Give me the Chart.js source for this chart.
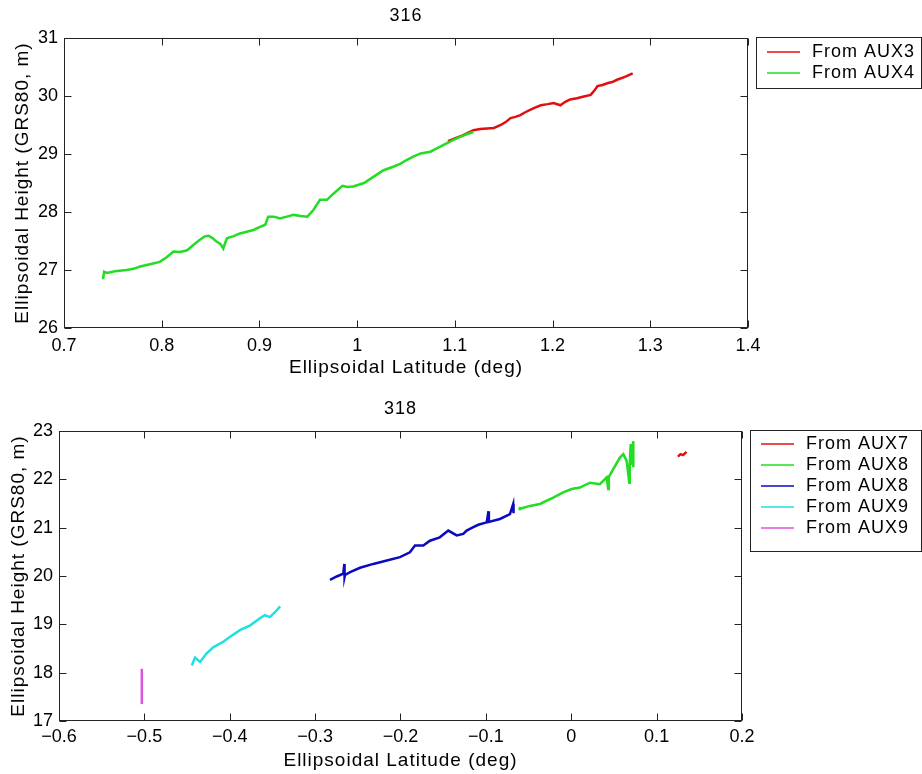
<!DOCTYPE html>
<html>
<head>
<meta charset="utf-8">
<script src="https://cdn.jsdelivr.net/npm/chart.js@4.4.1/dist/chart.umd.min.js"></script>
<style>
  html, body { margin: 0; padding: 0; background: #fff; }
  .wrap { position: absolute; left: 0; width: 922px; height: 387px; }
  canvas { display: block; }
</style>
</head>
<body>
<div class="wrap" style="top:0"><canvas id="chart316"></canvas></div>
<div class="wrap" style="top:387px"><canvas id="chart318"></canvas></div>
<script>
// ---- pass 316 ----
const lat316Aux3 = [1.093, 1.100, 1.108, 1.119, 1.126, 1.133, 1.140, 1.147, 1.152, 1.157, 1.162, 1.167, 1.172, 1.177, 1.182, 1.188, 1.195, 1.201, 1.208, 1.213, 1.218, 1.225, 1.232, 1.239, 1.243, 1.246, 1.251, 1.256, 1.261, 1.266, 1.274, 1.282];
const h316Aux3 = [29.22, 29.27, 29.32, 29.41, 29.43, 29.44, 29.45, 29.50, 29.55, 29.62, 29.64, 29.67, 29.72, 29.76, 29.80, 29.84, 29.86, 29.88, 29.84, 29.90, 29.94, 29.96, 29.99, 30.02, 30.10, 30.17, 30.19, 30.22, 30.24, 30.28, 30.33, 30.39];

const lat316Aux4 = [0.740, 0.741, 0.744, 0.752, 0.764, 0.771, 0.778, 0.788, 0.798, 0.805, 0.812, 0.819, 0.826, 0.833, 0.839, 0.844, 0.848, 0.852, 0.856, 0.860, 0.863, 0.865, 0.867, 0.873, 0.880, 0.887, 0.894, 0.900, 0.906, 0.909, 0.915, 0.921, 0.928, 0.935, 0.942, 0.949, 0.955, 0.962, 0.969, 0.976, 0.985, 0.990, 0.996, 1.007, 1.017, 1.027, 1.037, 1.044, 1.051, 1.058, 1.065, 1.075, 1.082, 1.089, 1.098, 1.106, 1.112, 1.119];
const h316Aux4 = [26.84, 26.97, 26.95, 26.98, 27.00, 27.02, 27.06, 27.10, 27.14, 27.22, 27.32, 27.31, 27.34, 27.44, 27.52, 27.58, 27.59, 27.55, 27.49, 27.45, 27.37, 27.47, 27.55, 27.58, 27.63, 27.66, 27.69, 27.74, 27.78, 27.92, 27.92, 27.89, 27.92, 27.95, 27.93, 27.92, 28.03, 28.21, 28.21, 28.32, 28.45, 28.43, 28.44, 28.50, 28.61, 28.72, 28.78, 28.83, 28.90, 28.96, 29.01, 29.04, 29.10, 29.16, 29.24, 29.30, 29.34, 29.38];

const xTicks316 = [0.7, 0.8, 0.9, 1.0, 1.1, 1.2, 1.3, 1.4];
const xLabels316 = ['0.7', '0.8', '0.9', '1', '1.1', '1.2', '1.3', '1.4'];
const yTicks316 = [26, 27, 28, 29, 30, 31];

// ---- pass 318 ----
const lat318Aux7 = [0.125, 0.128, 0.131, 0.135];
const h318Aux7 = [22.47, 22.52, 22.50, 22.57];

const lat318Aux8a = [-0.0605, -0.0600, -0.0600, -0.0484, -0.0367, -0.0211, -0.0094, 0.0005, 0.0101, 0.0219, 0.0336, 0.0414, 0.0433, 0.0440, 0.0492, 0.0570, 0.0610, 0.0649, 0.0680, 0.0685, 0.0696, 0.0700, 0.0727, 0.0727];
const h318Aux8a = [21.36, 21.43, 21.39, 21.45, 21.49, 21.62, 21.73, 21.80, 21.83, 21.93, 21.90, 22.04, 21.80, 22.05, 22.21, 22.45, 22.52, 22.38, 21.93, 22.30, 22.73, 22.30, 22.79, 22.25];

const lat318Aux8b = [-0.2826, -0.2747, -0.2670, -0.2658, -0.2655, -0.2650, -0.2590, -0.2474, -0.2318, -0.2160, -0.2006, -0.1890, -0.1830, -0.1733, -0.1655, -0.1540, -0.1440, -0.1342, -0.1265, -0.1225, -0.1147, -0.1089, -0.0990, -0.0970, -0.0965, -0.0835, -0.0718, -0.0680, -0.0677, -0.0675];
const h318Aux8b = [19.92, 19.99, 20.05, 20.25, 19.98, 20.02, 20.08, 20.17, 20.25, 20.32, 20.39, 20.49, 20.63, 20.63, 20.73, 20.80, 20.94, 20.84, 20.87, 20.94, 21.01, 21.06, 21.11, 21.34, 21.12, 21.18, 21.28, 21.49, 21.30, 21.30];

const lat318Aux9a = [-0.4445, -0.4406, -0.4348, -0.4270, -0.4190, -0.4075, -0.4000, -0.3880, -0.3760, -0.3650, -0.3590, -0.3530, -0.3470, -0.3410];
const h318Aux9a = [18.15, 18.31, 18.22, 18.40, 18.53, 18.64, 18.74, 18.88, 18.98, 19.12, 19.19, 19.15, 19.25, 19.37];

const lat318Aux9b = [-0.503, -0.503];
const h318Aux9b = [17.35, 18.08];

const xTicks318 = [-0.6, -0.5, -0.4, -0.3, -0.2, -0.1, 0, 0.1, 0.2];
const xLabels318 = ['\u22120.6', '\u22120.5', '\u22120.4', '\u22120.3', '\u22120.2', '\u22120.1', '0', '0.1', '0.2'];
const yTicks318 = [17, 18, 19, 20, 21, 22, 23];

const FONT = '"Liberation Sans", Arial, Helvetica, sans-serif';
Chart.defaults.font.family = FONT;
Chart.defaults.font.size = 18;
Chart.defaults.color = '#000';

function pts(xs, ys) {
    return xs.map((x, i) => ({ x: x, y: ys[i] }));
}

function line(label, xs, ys, color, order) {
    return {
        label: label,
        data: pts(xs, ys),
        borderColor: color,
        backgroundColor: color,
        borderWidth: 2.5,
        pointRadius: 0,
        showLine: true,
        tension: 0,
        order: order || 0,
    };
}

// рамка, засечки внутрь, подписи и легенда в стиле MATLAB
const matlabFrame = {
    id: 'matlabFrame',
    afterDraw(chart, args, o) {
        const { ctx, chartArea: a } = chart;
        const x = chart.scales.x, y = chart.scales.y;
        ctx.save();
        ctx.strokeStyle = '#222';
        ctx.lineWidth = 1;
        const L = Math.round(a.left) + 0.5, R = Math.round(a.right) - 0.5;
        const T = Math.round(a.top) + 0.5, B = Math.round(a.bottom) - 0.5;
        ctx.strokeRect(L, T, R - L, B - T);
        ctx.beginPath();
        x.ticks.forEach(t => {
            const px = Math.round(x.getPixelForValue(t.value)) + 0.5;
            ctx.moveTo(px, B); ctx.lineTo(px, B - 7);
            ctx.moveTo(px, T); ctx.lineTo(px, T + 7);
        });
        y.ticks.forEach(t => {
            const py = Math.round(y.getPixelForValue(t.value)) + 0.5;
            ctx.moveTo(L, py); ctx.lineTo(L + 7, py);
            ctx.moveTo(R, py); ctx.lineTo(R - 7, py);
        });
        ctx.stroke();

        ctx.fillStyle = '#000';
        ctx.textAlign = 'center';
        ctx.textBaseline = 'middle';
        ctx.letterSpacing = '1px';
        const cx = (a.left + a.right) / 2;
        ctx.font = '18px ' + FONT;
        ctx.fillText(o.title, cx, a.top - 21.5);
        ctx.font = '19px ' + FONT;
        ctx.fillText(o.xTitle, cx, a.bottom + 40);
        ctx.save();
        ctx.translate(o.yTitleX, (a.top + a.bottom) / 2);
        ctx.rotate(-Math.PI / 2);
        ctx.fillText(o.yTitle, 0, 0);
        ctx.restore();

        // легенда
        const lg = o.legend;
        const sets = chart.data.datasets;
        ctx.strokeStyle = '#222';
        ctx.strokeRect(lg.left + 0.5, lg.top + 0.5, lg.right - lg.left, lg.bottom - lg.top);
        ctx.font = '18px ' + FONT;
        ctx.textAlign = 'left';
        sets.forEach((ds, i) => {
            const ry = Math.round(lg.top + lg.first + i * lg.step);
            ctx.strokeStyle = ds.borderColor;
            ctx.lineWidth = 1.5;
            ctx.beginPath();
            ctx.moveTo(lg.left + 11, ry);
            ctx.lineTo(lg.left + 44, ry);
            ctx.stroke();
            ctx.fillText(ds.label, lg.left + 56, ry);
        });
        ctx.restore();
    }
};

function makeChart(id, cfg) {
    const ctx = document.getElementById(id).getContext('2d');
    return new Chart(ctx, {
        type: 'scatter',
        data: { datasets: cfg.datasets },
        options: {
            responsive: true,
            maintainAspectRatio: false,
            animation: false,
            events: [],
            layout: { padding: { left: 0, top: cfg.area.top, right: 922 - cfg.area.right, bottom: 0 } },
            plugins: {
                legend: { display: false },
                tooltip: { enabled: false },
                matlabFrame: cfg.frame,
            },
            scales: {
                x: {
                    type: 'linear',
                    min: cfg.xTicks[0],
                    max: cfg.xTicks[cfg.xTicks.length - 1],
                    afterBuildTicks: s => { s.ticks = cfg.xTicks.map(v => ({ value: v })); },
                    afterFit: s => { s.height = 387 - cfg.area.bottom; },
                    ticks: {
                        autoSkip: false,
                        maxRotation: 0,
                        padding: cfg.xPad,
                        callback: (v, i) => cfg.xLabels[i],
                    },
                    grid: { display: false, drawTicks: false },
                    border: { display: false },
                },
                y: {
                    type: 'linear',
                    min: cfg.yTicks[0],
                    max: cfg.yTicks[cfg.yTicks.length - 1],
                    afterBuildTicks: s => { s.ticks = cfg.yTicks.map(v => ({ value: v })); },
                    afterFit: s => { s.width = cfg.area.left; },
                    ticks: {
                        autoSkip: false,
                        padding: 6,
                        callback: v => String(v),
                    },
                    grid: { display: false, drawTicks: false },
                    border: { display: false },
                },
            },
        },
        plugins: [matlabFrame],
    });
}

document.addEventListener('DOMContentLoaded', () => {
    makeChart('chart316', {
        datasets: [
            line('From AUX3', lat316Aux3, h316Aux3, '#e01010', 1),
            line('From AUX4', lat316Aux4, h316Aux4, '#22dd22', 0),
        ],
        area: { left: 64, top: 38, right: 748, bottom: 328 },
        xTicks: xTicks316, xLabels: xLabels316, yTicks: yTicks316,
        xPad: 7,
        frame: {
            title: '316',
            xTitle: 'Ellipsoidal Latitude (deg)',
            yTitle: 'Ellipsoidal Height (GRS80, m)',
            yTitleX: 23,
            legend: { left: 756, top: 37, right: 921, bottom: 88, first: 15, step: 21.2 },
        },
    });

    makeChart('chart318', {
        datasets: [
            line('From AUX7', lat318Aux7, h318Aux7, '#e01010'),
            line('From AUX8', lat318Aux8a, h318Aux8a, '#22dd22'),
            line('From AUX8', lat318Aux8b, h318Aux8b, '#0a0ac0'),
            line('From AUX9', lat318Aux9a, h318Aux9a, '#20e0e0'),
            line('From AUX9', lat318Aux9b, h318Aux9b, '#dd55dd'),
        ],
        area: { left: 59, top: 44, right: 742, bottom: 334 },
        xTicks: xTicks318, xLabels: xLabels318, yTicks: yTicks318,
        xPad: 5,
        frame: {
            title: '318',
            xTitle: 'Ellipsoidal Latitude (deg)',
            yTitle: 'Ellipsoidal Height (GRS80, m)',
            yTitleX: 19,
            legend: { left: 750, top: 43, right: 921, bottom: 164, first: 13.5, step: 21.2 },
        },
    });
});
</script>
</body>
</html>
